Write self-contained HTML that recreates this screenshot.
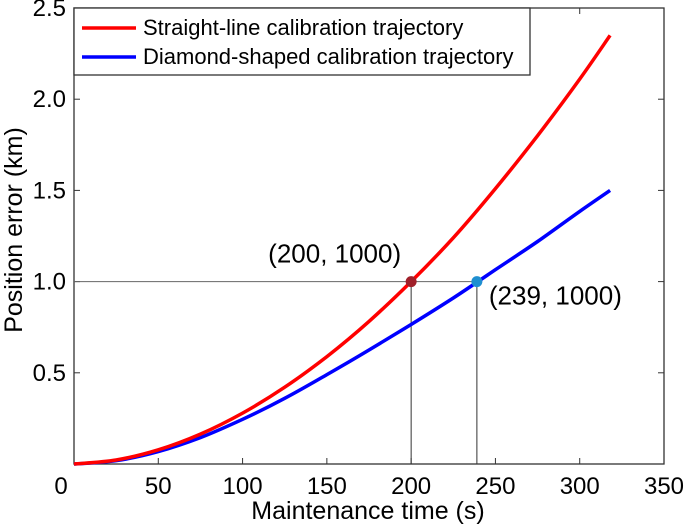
<!DOCTYPE html>
<html><head><meta charset="utf-8"><style>
body{margin:0;background:#fff}
svg text{font-family:"Liberation Sans",Arial,sans-serif;fill:#000}
</style></head><body>
<svg id="c" width="685" height="525"></svg>
<script>
const tVals=[0,25,50,75,100,125,150,175,200,225,250,275,300,318];
const redVals=[0,0.022,0.078,0.164,0.279,0.421,0.589,0.782,1.0,1.24,1.51,1.80,2.11,2.35];
const blueVals=[0,0.018,0.068,0.145,0.245,0.36,0.49,0.625,0.765,0.91,1.065,1.22,1.385,1.5];
const xTicks=[50,100,150,200,250,300,350];
const yTicks=[0.5,1.0,1.5,2.0,2.5];
const yTickLabels=["0.5","1.0","1.5","2.0","2.5"];
const markerX=[200,239];
const markerY=[1.0,1.0];
const markerLabels=["(200, 1000)","(239, 1000)"];
const L=74,R=664,T=8,B=464;
const X=v=>L+(v/350)*(R-L);
const Y=v=>B-(v/2.5)*(B-T);
const svg=document.getElementById('c');
const NS='http://www.w3.org/2000/svg';
function mk(tag,attrs,txt){const e=document.createElementNS(NS,tag);for(const k in attrs)e.setAttribute(k,attrs[k]);if(txt!==undefined)e.textContent=txt;svg.appendChild(e);return e;}
let e;
e=mk('rect',{x:L,y:T,width:R-L,height:B-T,fill:'none',stroke:'#333','stroke-width':1.3});


xTicks.forEach((v,i)=>{
 e=mk('line',{x1:X(v),x2:X(v),y1:B,y2:B-6,stroke:'#333'});
 
 
 e=mk('line',{x1:X(v),x2:X(v),y1:T,y2:T+6,stroke:'#333'});
 
 
 e=mk('text',{x:X(v),y:B+30,'text-anchor':'middle','font-size':24},String(v));
 
 
});
yTicks.forEach((v,i)=>{
 e=mk('line',{x1:L,x2:L+6,y1:Y(v),y2:Y(v),stroke:'#333'});
 
 
 e=mk('line',{x1:R,x2:R-6,y1:Y(v),y2:Y(v),stroke:'#333'});
 
 
 e=mk('text',{x:L-8,y:Y(v)+8,'text-anchor':'end','font-size':24},yTickLabels[i]);
 
 
});
e=mk('text',{x:L-13,y:B+30,'text-anchor':'middle','font-size':24},'0');


e=mk('line',{x1:L,x2:X(markerX[1]),y1:Y(1),y2:Y(1),stroke:'#666','stroke-width':1});


markerX.forEach((v,i)=>{
 e=mk('line',{x1:X(v),x2:X(v),y1:Y(markerY[i]),y2:B,stroke:'#333','stroke-width':1});
 
 
});
function path(vals,color,name){
 const px=tVals.map(X), py=vals.map(Y);
 let d='M'+px[0].toFixed(1)+' '+py[0].toFixed(1);
 for(let i=0;i<px.length-1;i++){
  const p0=i?i-1:i, p3=i+2<px.length?i+2:i+1;
  const c1x=px[i]+(px[i+1]-px[p0])/6, c1y=py[i]+(py[i+1]-py[p0])/6;
  const c2x=px[i+1]-(px[p3]-px[i])/6, c2y=py[i+1]-(py[p3]-py[i])/6;
  d+=' C'+c1x.toFixed(1)+' '+c1y.toFixed(1)+' '+c2x.toFixed(1)+' '+c2y.toFixed(1)+' '+px[i+1].toFixed(1)+' '+py[i+1].toFixed(1);
 }
 const p=mk('path',{d:d,fill:'none',stroke:color,'stroke-width':3.5,'stroke-linejoin':'round'});
 
 
}
path(blueVals,'#0000ff','diamond-series-line');
path(redVals,'#ff0000','straight-line-series-line');
const mColors=['#a0202a','#1f8fd0'];
markerX.forEach((v,i)=>{
 e=mk('circle',{cx:X(v),cy:Y(markerY[i]),r:5.5,fill:mColors[i]});
 
 
});
e=mk('text',{x:X(markerX[0])-10,y:Y(1)-19,'text-anchor':'end','font-size':26},markerLabels[0]);


e=mk('text',{x:X(markerX[1])+12,y:Y(1)+23,'text-anchor':'start','font-size':26},markerLabels[1]);


e=mk('rect',{x:L,y:T,width:456,height:67,fill:'#fff',stroke:'#333','stroke-width':1.3});


e=mk('line',{x1:82,x2:136,y1:28,y2:28,stroke:'#ff0000','stroke-width':3.5});


e=mk('text',{x:143,y:35,'font-size':22},'Straight-line calibration trajectory');


e=mk('line',{x1:82,x2:136,y1:57,y2:57,stroke:'#0000ff','stroke-width':3.5});


e=mk('text',{x:143,y:64,'font-size':22},'Diamond-shaped calibration trajectory');


e=mk('text',{x:368,y:519,'text-anchor':'middle','font-size':25},'Maintenance time (s)');


e=mk('text',{x:0,y:0,'text-anchor':'middle','font-size':25,transform:'translate(22,230) rotate(-90)'},'Position error (km)');


</script>
</body></html>
